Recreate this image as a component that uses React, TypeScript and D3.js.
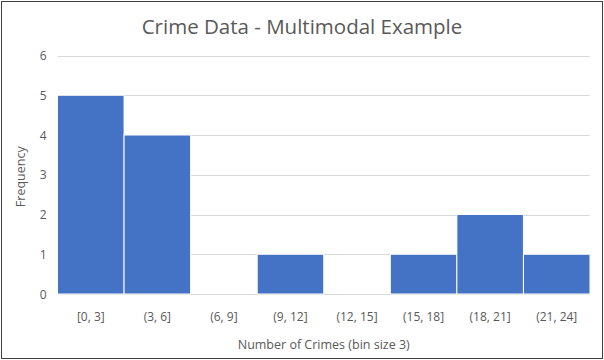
import { useEffect, useRef } from 'react';
import * as d3 from 'd3';

const bins = ['[0, 3]', '(3, 6]', '(6, 9]', '(9, 12]', '(12, 15]', '(15, 18]', '(18, 21]', '(21, 24]'];
const counts = [5, 4, 0, 1, 0, 1, 2, 1];
const yTicks = [0, 1, 2, 3, 4, 5, 6];

const W = 604;
const H = 360;
const FONT = '"Open Sans", "Noto Sans", sans-serif';
const TEXT = '#595959';

export default function App() {
  const svgRef = useRef<SVGSVGElement>(null);

  useEffect(() => {
    document.body.style.margin = '0';
    if (!svgRef.current) return;
    const svg = d3.select(svgRef.current);
    svg.selectAll('*').remove();

    const margin = { top: 55.5, right: 14, bottom: 66, left: 57.5 };
    const x = d3.scaleBand().domain(bins).range([margin.left, W - margin.right]).padding(0);
    const y = d3.scaleLinear().domain([0, 6]).range([H - margin.bottom, margin.top]);

    svg.append('rect')
      .attr('width', W).attr('height', H).attr('fill', '#ffffff');

    // outer border
    svg.append('rect')
      .attr('x', 1.5).attr('y', 1.5)
      .attr('width', W - 3).attr('height', H - 3)
      .attr('fill', 'none').attr('stroke', '#404040').attr('stroke-width', 1);

    // gridlines
    svg.append('g')
      .selectAll('line')
      .data(yTicks)
      .enter()
      .append('line')
      .attr('x1', margin.left)
      .attr('x2', W - margin.right)
      .attr('y1', d => Math.round(y(d)) + 0.5)
      .attr('y2', d => Math.round(y(d)) + 0.5)
      .attr('stroke', '#d9d9d9')
      .attr('stroke-width', 1);

    // bars
    svg.append('g')
      .selectAll('rect')
      .data(counts)
      .enter()
      .append('rect')
      .attr('x', (_, i) => x(bins[i]) || 0)
      .attr('width', x.bandwidth())
      .attr('y', d => y(d))
      .attr('height', d => y(0) - y(d))
      .attr('fill', '#4472c4')
      .attr('stroke', '#ffffff')
      .attr('stroke-width', d => (d > 0 ? 1 : 0));

    // y tick labels
    svg.append('g')
      .selectAll('text')
      .data(yTicks)
      .enter()
      .append('text')
      .attr('x', margin.left - 11)
      .attr('y', d => y(d) + 4.5)
      .attr('text-anchor', 'end')
      .attr('fill', TEXT)
      .style('font-family', FONT)
      .style('font-size', '12px')
      .text(d => d);

    // x tick labels
    svg.append('g')
      .selectAll('text')
      .data(bins)
      .enter()
      .append('text')
      .attr('x', d => (x(d) || 0) + x.bandwidth() / 2)
      .attr('y', y(0) + 27)
      .attr('text-anchor', 'middle')
      .attr('fill', TEXT)
      .style('font-family', FONT)
      .style('font-size', '12px')
      .text(d => d);

    // title
    svg.append('text')
      .attr('x', W / 2)
      .attr('y', 33.5)
      .attr('text-anchor', 'middle')
      .attr('fill', TEXT)
      .style('font-family', FONT)
      .style('font-size', '20.5px')
      .text('Crime Data - Multimodal Example');

    // axis titles
    svg.append('text')
      .attr('x', (margin.left + W - margin.right) / 2)
      .attr('y', 348.5)
      .attr('text-anchor', 'middle')
      .attr('fill', TEXT)
      .style('font-family', FONT)
      .style('font-size', '12.5px')
      .text('Number of Crimes (bin size 3)');

    svg.append('text')
      .attr('transform', `translate(25, ${(margin.top + H - margin.bottom) / 2 + 2}) rotate(-90)`)
      .attr('text-anchor', 'middle')
      .attr('fill', TEXT)
      .style('font-family', FONT)
      .style('font-size', '12.5px')
      .text('Frequency');
  }, []);

  return <svg ref={svgRef} width={W} height={H} style={{ display: 'block' }} />;
}
